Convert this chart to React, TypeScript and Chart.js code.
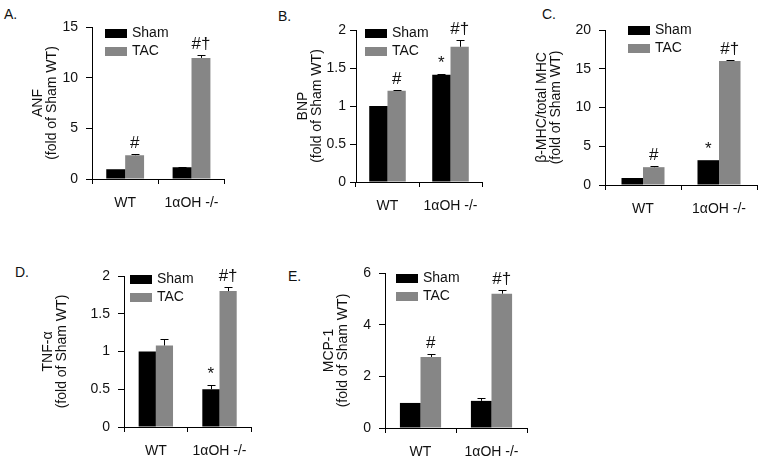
import React, { useEffect, useRef } from 'react';
import { Chart, registerables } from 'chart.js';

Chart.register(...registerables);

const FONT = "'Liberation Sans', Arial, sans-serif";

const categories = ['WT', '1αOH -/-'];
const seriesLabels = ['Sham', 'TAC'];
const seriesColors = ['#000000', '#868686'];

// A. ANF
const anfSham = [0.95, 1.15];
const anfTac = [2.35, 11.95];
const anfShamErr = [0, 0.08];
const anfTacErr = [0.08, 0.25];
const anfShamMarks = ['', ''];
const anfTacMarks = ['#', '#†'];

// B. BNP
const bnpSham = [1.0, 1.41];
const bnpTac = [1.2, 1.78];
const bnpShamErr = [0, 0.01];
const bnpTacErr = [0.01, 0.09];
const bnpShamMarks = ['', '*'];
const bnpTacMarks = ['#', '#†'];

// C. beta-MHC / total MHC
const mhcSham = [0.9, 3.2];
const mhcTac = [2.3, 16.0];
const mhcShamErr = [0, 0];
const mhcTacErr = [0.1, 0.15];
const mhcShamMarks = ['', '*'];
const mhcTacMarks = ['#', '#†'];

// D. TNF-alpha
const tnfSham = [1.0, 0.5];
const tnfTac = [1.08, 1.8];
const tnfShamErr = [0, 0.06];
const tnfTacErr = [0.08, 0.05];
const tnfShamMarks = ['', '*'];
const tnfTacMarks = ['', '#†'];

// E. MCP-1
const mcpSham = [0.97, 1.05];
const mcpTac = [2.75, 5.2];
const mcpShamErr = [0, 0.12];
const mcpTacErr = [0.12, 0.15];
const mcpShamMarks = ['', ''];
const mcpTacMarks = ['#', '#†'];

const panels = [
  {
    letter: 'A.', letterPos: [4, 7], title: ['ANF', '(fold of Sham WT)'],
    sham: anfSham, tac: anfTac, shamErr: anfShamErr, tacErr: anfTacErr,
    shamMarks: anfShamMarks, tacMarks: anfTacMarks,
    yMax: 15, yStep: 5, area: { l: 92, r: 225, t: 27, b: 179 }, titleCenter: 38, tickPad: 8,
    legend: { dx: 13, dy: 2 }, catPct: 0.57,
  },
  {
    letter: 'B.', letterPos: [278, 9], title: ['BNP', '(fold of Sham WT)'],
    sham: bnpSham, tac: bnpTac, shamErr: bnpShamErr, tacErr: bnpTacErr,
    shamMarks: bnpShamMarks, tacMarks: bnpTacMarks,
    yMax: 2, yStep: 0.5, area: { l: 356, r: 484, t: 30, b: 182 }, titleCenter: 303, tickPad: 4,
    legend: { dx: 9, dy: -1 }, catPct: 0.58,
  },
  {
    letter: 'C.', letterPos: [542, 7], title: ['β-MHC/total MHC', '(fold of Sham WT)'],
    sham: mhcSham, tac: mhcTac, shamErr: mhcShamErr, tacErr: mhcTacErr,
    shamMarks: mhcShamMarks, tacMarks: mhcTacMarks,
    yMax: 20, yStep: 5, area: { l: 605, r: 757, t: 30, b: 185 }, titleCenter: 542, tickPad: 8,
    legend: { dx: 23, dy: -4 }, catPct: 0.566,
  },
  {
    letter: 'D.', letterPos: [15, 265], title: ['TNF-α', '(fold of Sham WT)'],
    sham: tnfSham, tac: tnfTac, shamErr: tnfShamErr, tacErr: tnfTacErr,
    shamMarks: tnfShamMarks, tacMarks: tnfTacMarks,
    yMax: 2, yStep: 0.5, area: { l: 124, r: 253, t: 276, b: 427 }, titleCenter: 48, tickPad: 8,
    legend: { dx: 6, dy: -1 }, catPct: 0.54,
  },
  {
    letter: 'E.', letterPos: [288, 269], title: ['MCP-1', '(fold of Sham WT)'],
    sham: mcpSham, tac: mcpTac, shamErr: mcpShamErr, tacErr: mcpTacErr,
    shamMarks: mcpShamMarks, tacMarks: mcpTacMarks,
    yMax: 6, yStep: 2, area: { l: 385, r: 527, t: 273, b: 428 }, titleCenter: 329, tickPad: 8,
    legend: { dx: 11, dy: 1 }, catPct: 0.58,
  },
];

const PAD_TOP = 24;
const X_HEIGHT = 34;
const PAD_RIGHT = 6;

const errorBarPlugin = {
  id: 'errorBars',
  afterDatasetsDraw(chart: any, _args: any, opts: any) {
    const ctx = chart.ctx;
    const y = chart.scales.y;
    ctx.save();
    ctx.strokeStyle = '#000';
    ctx.lineWidth = 1;
    (opts.errors || []).forEach((errs: number[], di: number) => {
      const meta = chart.getDatasetMeta(di);
      const vals = chart.data.datasets[di].data as number[];
      errs.forEach((e, i) => {
        if (!e) return;
        const bar = meta.data[i];
        const x = Math.round(bar.x) + 0.5;
        const y0 = y.getPixelForValue(vals[i]);
        const y1 = Math.round(y.getPixelForValue(vals[i] + e)) + 0.5;
        ctx.beginPath();
        ctx.moveTo(x, y0);
        ctx.lineTo(x, y1);
        ctx.moveTo(x - 4, y1);
        ctx.lineTo(x + 4, y1);
        ctx.stroke();
      });
    });
    ctx.restore();
  },
};

const marksPlugin = {
  id: 'sigMarks',
  afterDatasetsDraw(chart: any, _args: any, opts: any) {
    const ctx = chart.ctx;
    const y = chart.scales.y;
    ctx.save();
    ctx.fillStyle = '#111';
    ctx.font = `17px ${FONT}`;
    ctx.textAlign = 'center';
    ctx.textBaseline = 'alphabetic';
    (opts.marks || []).forEach((marks: string[], di: number) => {
      const meta = chart.getDatasetMeta(di);
      const vals = chart.data.datasets[di].data as number[];
      const errs = (opts.errors || [])[di] || [];
      marks.forEach((m, i) => {
        if (!m) return;
        const bar = meta.data[i];
        const top = y.getPixelForValue(vals[i] + (errs[i] || 0));
        ctx.fillText(m, bar.x, top - 6);
      });
    });
    ctx.restore();
  },
};

const boxLegendPlugin = {
  id: 'boxLegend',
  afterDraw(chart: any, _args: any, opts: any) {
    const ctx = chart.ctx;
    const area = chart.chartArea;
    ctx.save();
    ctx.font = `14px ${FONT}`;
    ctx.textBaseline = 'middle';
    ctx.textAlign = 'left';
    chart.data.datasets.forEach((ds: any, i: number) => {
      const bx = area.left + opts.dx;
      const by = area.top + opts.dy + i * 18;
      ctx.fillStyle = ds.backgroundColor;
      ctx.fillRect(bx, by, 22, 9);
      ctx.fillStyle = '#111';
      ctx.fillText(ds.label, bx + 27, by + 4.5);
    });
    ctx.restore();
  },
};

function Panel({ cfg }: { cfg: any }) {
  const ref = useRef<HTMLCanvasElement | null>(null);
  const canvasLeft = cfg.titleCenter - 7;
  const yWidth = cfg.area.l - canvasLeft;
  const w = cfg.area.r - canvasLeft + PAD_RIGHT;
  const h = PAD_TOP + (cfg.area.b - cfg.area.t) + X_HEIGHT;

  useEffect(() => {
    if (!ref.current) return;
    const chart = new Chart(ref.current, {
      type: 'bar',
      data: {
        labels: categories,
        datasets: [
          {
            label: seriesLabels[0], data: cfg.sham, backgroundColor: seriesColors[0],
            borderWidth: 0, barPercentage: 1, categoryPercentage: cfg.catPct,
          },
          {
            label: seriesLabels[1], data: cfg.tac, backgroundColor: seriesColors[1],
            borderWidth: 0, barPercentage: 1, categoryPercentage: cfg.catPct,
          },
        ],
      },
      options: {
        responsive: false,
        maintainAspectRatio: false,
        animation: false,
        layout: { padding: { top: PAD_TOP, left: 0, right: PAD_RIGHT, bottom: 0 } },
        plugins: {
          legend: { display: false },
          tooltip: { enabled: false },
          errorBars: { errors: [cfg.shamErr, cfg.tacErr] },
          sigMarks: { marks: [cfg.shamMarks, cfg.tacMarks], errors: [cfg.shamErr, cfg.tacErr] },
          boxLegend: cfg.legend,
        } as any,
        scales: {
          x: {
            offset: true,
            grid: { offset: true, drawOnChartArea: false, drawTicks: true, tickLength: 5, color: '#000' },
            border: { display: true, color: '#000', width: 1 },
            ticks: { color: '#111', font: { family: FONT, size: 14 }, padding: 11, maxRotation: 0, autoSkip: false },
            afterFit: (s: any) => { s.height = X_HEIGHT; },
          },
          y: {
            min: 0,
            max: cfg.yMax,
            ticks: {
              stepSize: cfg.yStep, color: '#111', font: { family: FONT, size: 14 }, padding: cfg.tickPad,
              callback: (v: any) => String(Number(v)),
            },
            grid: { drawOnChartArea: false, drawTicks: true, tickLength: 6, color: '#000' },
            border: { display: true, color: '#000', width: 1 },
            title: {
              display: true, text: cfg.title, color: '#111',
              font: { family: FONT, size: 14, lineHeight: '14px' },
              padding: { top: 0, bottom: 0 },
            },
            afterFit: (s: any) => { s.width = yWidth; },
          },
        },
      },
      plugins: [errorBarPlugin, marksPlugin, boxLegendPlugin],
    });
    return () => chart.destroy();
  }, []);

  return (
    <canvas
      ref={ref}
      width={w}
      height={h}
      style={{ position: 'absolute', left: canvasLeft, top: cfg.area.t - PAD_TOP, width: w, height: h }}
    />
  );
}

export default function App() {
  return (
    <div style={{ position: 'fixed', left: 0, top: 0, width: 764, height: 462, background: '#fff', overflow: 'hidden' }}>
      {panels.map((p) => (
        <React.Fragment key={p.letter}>
          <div
            style={{
              position: 'absolute', left: p.letterPos[0], top: p.letterPos[1],
              font: `14px/14px ${FONT}`, color: '#111',
            }}
          >
            {p.letter}
          </div>
          <Panel cfg={p} />
        </React.Fragment>
      ))}
    </div>
  );
}
